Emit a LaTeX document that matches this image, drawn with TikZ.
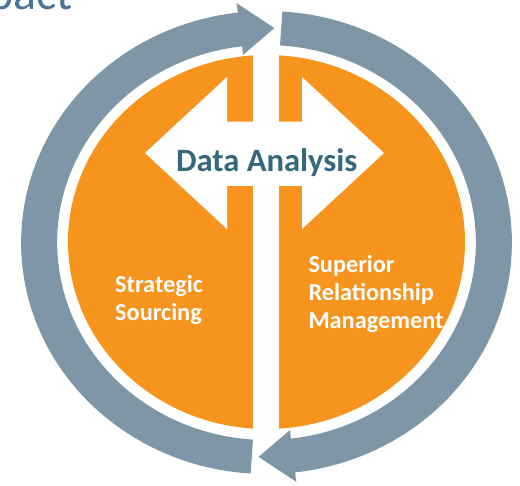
\documentclass[tikz,border=0pt]{standalone}
\usepackage{fontspec}
\setmainfont{Carlito}
\definecolor{ringgray}{RGB}{127,150,166}
\definecolor{discorange}{RGB}{247,148,30}
\definecolor{labelteal}{RGB}{53,104,126}
\definecolor{titleblue}{RGB}{78,116,154}
\tikzset{
  ringarrow/.style={fill=ringgray},
  halflabel/.style={anchor=base west, inner sep=0pt, text=white, font=\bfseries\fontsize{24.3}{28}\selectfont},
}
\begin{document}
\begin{tikzpicture}[x=1pt,y=1pt]
\useasboundingbox (0,0) rectangle (520,486);
% partial title
\node[anchor=base west, inner sep=0pt, text=titleblue, font=\fontsize{48}{52}\selectfont] (title) at (-12,476) {pact};
% circular arrows
\begin{scope}[shift={(266.5,243.5)}, xscale=1.06]
\fill[ringarrow] (266.3:231.5) arc[start angle=266.3, end angle=96.7, radius=231.5]
  -- (96.7:241) -- (88:214.5) -- (96.7:189) -- (96.7:197.5)
  arc[start angle=96.7, end angle=266.3, radius=197.5] -- cycle;
\fill[ringarrow] (86.3:231.5) arc[start angle=86.3, end angle=-83.3, radius=231.5]
  -- (-83.3:241) -- (-92:214.5) -- (-83.3:189) -- (-83.3:197.5)
  arc[start angle=-83.3, end angle=86.3, radius=197.5] -- cycle;
\end{scope}
% orange disc
\fill[discorange] (266.5,244) ellipse[x radius=198.5, y radius=187];
% white vertical gap
\fill[white] (253,50) rectangle (279,436);
% white double arrow
\fill[white] (145,333) -- (227,409) -- (227,364.3) -- (302,364.3) -- (302,409)
  -- (384,333) -- (302,257) -- (302,300) -- (227,300) -- (227,257) -- cycle;
% labels
\node[anchor=base, inner sep=0pt, text=labelteal, font=\bfseries\fontsize{32.6}{36}\selectfont] (da) at (266.7,314.3) {Data Analysis};
\node[halflabel] (ss1) at (115,193.7) {Strategic};
\node[halflabel] (ss2) at (115,165.3) {Sourcing};
\node[halflabel] (sr1) at (308.3,213.3) {Superior};
\node[halflabel] (sr2) at (308.3,185.3) {Relationship};
\node[halflabel] (sr3) at (308.3,157) {Management};
\end{tikzpicture}
\end{document}
